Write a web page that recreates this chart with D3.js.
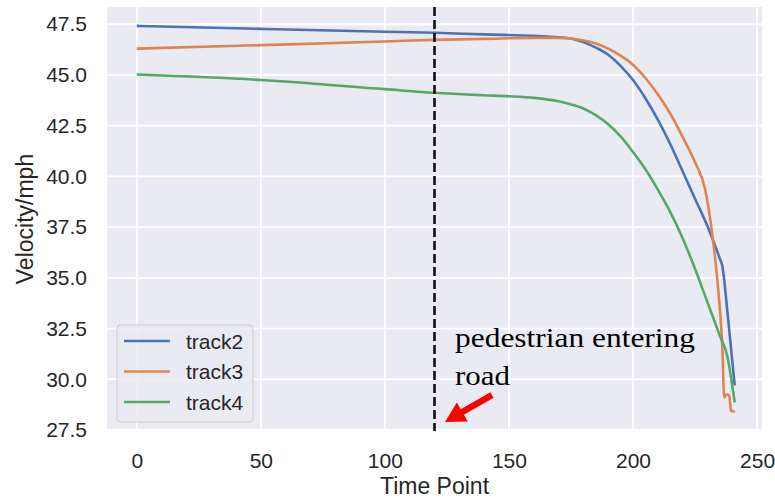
<!DOCTYPE html>
<html>
<head>
<meta charset="utf-8">
<script src="https://cdn.jsdelivr.net/npm/d3@7"></script>
<style>
  html, body { margin: 0; padding: 0; background: #ffffff; }
  svg { display: block; }
</style>
</head>
<body>
<svg id="chart" width="775" height="500"></svg>
<script>
// ---- data ----
const xTicks = [0, 50, 100, 150, 200, 250];
const yTicks = [27.5, 30.0, 32.5, 35.0, 37.5, 40.0, 42.5, 45.0, 47.5];

const track2T = [0, 50, 100, 120, 140, 160, 170, 175, 180, 185, 190, 195, 200, 205, 210, 215, 220, 225, 230, 235, 236, 238, 241];
const track2V = [47.42, 47.27, 47.13, 47.08, 47.0, 46.93, 46.86, 46.8, 46.62, 46.35, 46.0, 45.45, 44.75, 43.85, 42.8, 41.6, 40.25, 38.9, 37.55, 35.95, 35.6, 33.4, 29.7];

const track3T = [0, 50, 100, 120, 140, 160, 170, 175, 180, 185, 190, 195, 200, 205, 210, 215, 220, 225, 229, 232, 234, 236, 236.8, 237.5, 238.8, 239.5, 241];
const track3V = [46.3, 46.47, 46.65, 46.73, 46.78, 46.83, 46.83, 46.8, 46.7, 46.55, 46.3, 45.95, 45.5, 44.85, 44.05, 43.1, 41.95, 40.7, 39.4, 37.1, 34.9, 31.6, 29.1, 29.25, 29.2, 28.45, 28.4];

const track4T = [0, 50, 100, 120, 140, 150, 160, 170, 175, 180, 185, 190, 195, 200, 205, 210, 215, 220, 225, 230, 235, 238, 241];
const track4V = [45.02, 44.75, 44.3, 44.12, 44.0, 43.95, 43.87, 43.7, 43.55, 43.35, 43.02, 42.57, 41.97, 41.2, 40.35, 39.35, 38.25, 36.95, 35.45, 33.8, 32.15, 31.15, 28.86];

const seriesNames = ["track2", "track3", "track4"];
const seriesColors = ["#4C72B0", "#DD8452", "#55A868"];
const markerT = 120;
const noteLines = ["pedestrian entering", "road"];

// ---- layout ----
const svg = d3.select("#chart");
const L = 107, R = 762, T = 7, B = 431;
const x = d3.scaleLinear().domain([-12, 252]).range([L, R]);
const y = d3.scaleLinear().domain([27.45, 48.35]).range([B, T]);
const textColor = "#262626";

svg.append("rect").attr("x", L).attr("y", T).attr("width", R - L).attr("height", B - T).attr("fill", "#EAEAF2");

// grid
svg.append("g").selectAll("line").data(xTicks).join("line")
  .attr("x1", d => x(d)).attr("x2", d => x(d)).attr("y1", T).attr("y2", B)
  .attr("stroke", "#ffffff").attr("stroke-width", 1.8);
svg.append("g").selectAll("line").data(yTicks).join("line")
  .attr("x1", L).attr("x2", R).attr("y1", d => y(d)).attr("y2", d => y(d))
  .attr("stroke", "#ffffff").attr("stroke-width", 1.8);

// axes (labels only, like seaborn darkgrid)
const xAxis = d3.axisBottom(x).tickValues(xTicks).tickSize(0).tickPadding(22).tickFormat(d3.format("d"));
const gx = svg.append("g").attr("transform", `translate(0,${B})`).call(xAxis);
gx.select(".domain").remove();
gx.selectAll("text").attr("font-family", "'Liberation Sans', Arial, sans-serif").attr("font-size", 21).attr("fill", textColor);

const yAxis = d3.axisLeft(y).tickValues(yTicks).tickSize(0).tickPadding(20).tickFormat(d3.format(".1f"));
const gy = svg.append("g").attr("transform", `translate(${L},0)`).call(yAxis);
gy.select(".domain").remove();
gy.selectAll("text").attr("font-family", "'Liberation Sans', Arial, sans-serif").attr("font-size", 21).attr("fill", textColor);

// axis titles
svg.append("text").attr("x", (L + R) / 2).attr("y", 494).attr("text-anchor", "middle")
  .attr("font-family", "'Liberation Sans', Arial, sans-serif").attr("font-size", 23).attr("fill", textColor)
  .text("Time Point");
svg.append("text").attr("transform", `translate(33,${(T + B) / 2}) rotate(-90)`).attr("text-anchor", "middle")
  .attr("font-family", "'Liberation Sans', Arial, sans-serif").attr("font-size", 23).attr("fill", textColor)
  .text("Velocity/mph");

// clip
svg.append("clipPath").attr("id", "clip").append("rect").attr("x", L).attr("y", T).attr("width", R - L).attr("height", B - T);

// lines
const series = [
  { name: seriesNames[0], t: track2T, v: track2V, color: seriesColors[0] },
  { name: seriesNames[1], t: track3T, v: track3V, color: seriesColors[1] },
  { name: seriesNames[2], t: track4T, v: track4V, color: seriesColors[2] }
];
const line = d3.line().x(d => x(d[0])).y(d => y(d[1])).curve(d3.curveMonotoneX);
const gl = svg.append("g").attr("clip-path", "url(#clip)");
series.forEach(s => {
  gl.append("path").datum(s.t.map((t, i) => [t, s.v[i]]))
    .attr("d", line).attr("fill", "none").attr("stroke", s.color)
    .attr("stroke-width", 2.6).attr("stroke-linejoin", "round").attr("stroke-linecap", "butt");
});

// dashed marker line
svg.append("line").attr("x1", x(markerT)).attr("x2", x(markerT)).attr("y1", T).attr("y2", B)
  .attr("stroke", "#111111").attr("stroke-width", 2.6).attr("stroke-dasharray", "9,4");

// legend
const lg = svg.append("g");
lg.append("rect").attr("x", 117).attr("y", 325).attr("width", 136).attr("height", 97).attr("rx", 4)
  .attr("fill", "#EAEAF2").attr("fill-opacity", 0.85).attr("stroke", "#cccccc").attr("stroke-width", 1);
series.forEach((s, i) => {
  const yy = 341 + i * 30.5;
  lg.append("line").attr("x1", 124).attr("x2", 170).attr("y1", yy).attr("y2", yy)
    .attr("stroke", s.color).attr("stroke-width", 2.6);
  lg.append("text").attr("x", 186).attr("y", yy + 7.5)
    .attr("font-family", "'Liberation Sans', Arial, sans-serif").attr("font-size", 21).attr("fill", textColor)
    .text(s.name);
});

// annotation
svg.append("text").attr("x", 455).attr("y", 347).attr("font-family", "'Liberation Serif', 'Times New Roman', serif")
  .attr("font-size", 28).attr("fill", "#000").attr("textLength", 240).attr("lengthAdjust", "spacingAndGlyphs")
  .text(noteLines[0]);
svg.append("text").attr("x", 455).attr("y", 385).attr("font-family", "'Liberation Serif', 'Times New Roman', serif")
  .attr("font-size", 28).attr("fill", "#000").attr("textLength", 55).attr("lengthAdjust", "spacingAndGlyphs")
  .text(noteLines[1]);

// red arrow
const tail = [492, 395], tip = [445, 422];
const ang = Math.atan2(tip[1] - tail[1], tip[0] - tail[0]);
const headLen = 20, headW = 11, shaftW = 3.2;
const ux = Math.cos(ang), uy = Math.sin(ang), px = -uy, py = ux;
const bx = tip[0] - ux * headLen, by = tip[1] - uy * headLen;
const pts = [
  [tail[0] + px * shaftW, tail[1] + py * shaftW],
  [bx + px * shaftW, by + py * shaftW],
  [bx + px * headW, by + py * headW],
  tip,
  [bx - px * headW, by - py * headW],
  [bx - px * shaftW, by - py * shaftW],
  [tail[0] - px * shaftW, tail[1] - py * shaftW]
];
svg.append("polygon").attr("points", pts.map(p => p.join(",")).join(" ")).attr("fill", "#ff0000");
</script>
</body>
</html>
